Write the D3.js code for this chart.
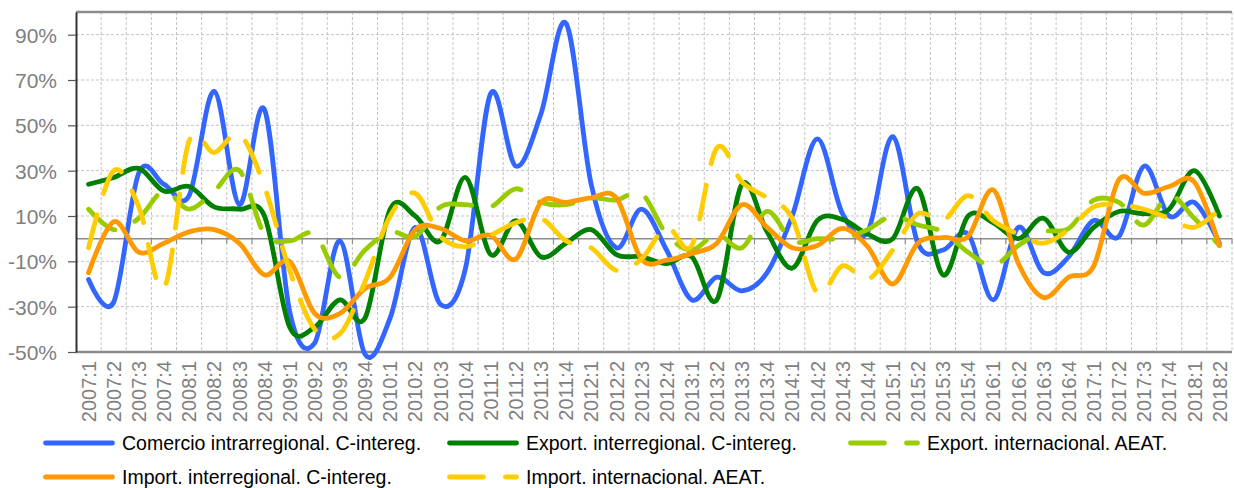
<!DOCTYPE html>
<html>
<head>
<meta charset="utf-8">
<script src="https://cdn.jsdelivr.net/npm/d3@7"></script>
<style>
  body { margin: 0; background: #fff; }
  svg { display: block; font-family: "Liberation Sans", Arial, sans-serif; }
</style>
</head>
<body>
<svg id="chart"></svg>
<script>
// trimestres
const labels = ["2007:1","2007:2","2007:3","2007:4","2008:1","2008:2","2008:3","2008:4",
  "2009:1","2009:2","2009:3","2009:4","2010:1","2010:2","2010:3","2010:4",
  "2011:1","2011:2","2011:3","2011:4","2012:1","2012:2","2012:3","2012:4",
  "2013:1","2013:2","2013:3","2013:4","2014:1","2014:2","2014:3","2014:4",
  "2015:1","2015:2","2015:3","2015:4","2016:1","2016:2","2016:3","2016:4",
  "2017:1","2017:2","2017:3","2017:4","2018:1","2018:2"];

// series (%)
const comercioIntra = [-18, -28, 29, 24, 19, 65, 15, 57, -32, -46, -1, -51, -35, 5, -29, -13,
  64, 32, 55, 95, 24, -4, 13, -5, -27, -17, -23, -15, 10, 44, 11, 3,
  45, -2, -5, 2, -27, 5, -15, -8, 8, 1, 32, 10, 16, -2];
const exportInter = [24, 27, 31, 21, 23, 14, 13, 10, -39, -39, -27, -35, 13, 10, -1, 27,
  -7, 8, -8, -2, 4, -7, -8, -11, -8, -27, 24, 3, -13, 8, 8.5, 2,
  0, 22, -16, 10, 7, 0, 9, -6, 5, 12, 11, 13, 30, 10];
const exportIntl = [13, 4, 9, 21, 13, 21, 30, 2, -1, 2, -17, -5, 3, 1, 14, 15,
  14, 22, 16, 15, 18, 17, 20, 2, -5, 2, -4, 12, -1, 0, 0, 4,
  10, 6, 3, -6, -12, -3, 3, 4.5, 17, 16, 6, 19, 9, -3];
const importInter = [-15, 7.5, -6, -2, 3, 4, -2, -16, -10, -33, -33, -22, -17, 4, 4.5, -1,
  1.5, -9, 16, 16, 18, 18, -9, -9.5, -6.5, -2, 15, 5, -4, -3, 4.5, -3.5,
  -20, -2, 0.5, 1, 21.5, -11, -26, -17, -12, 26, 20, 23, 25, -3];
const importIntl = [-4, 30, 14, -22, 43, 38, 46, 23, -14, -40, -42, -19, 10, 20, 1, -3.5,
  1.5, 7, 9, -1, -4, -14, -9, 5, -3, 40, 25, 18, 9, -24, -12, -18,
  -5, 11, 8, 19, 8, 2, -2, 4, 14, 15, 13, 9, 5, 13];

const yTicks = [-50, -30, -10, 10, 30, 50, 70, 90];

const series = [
  { name: "Comercio intrarregional. C-intereg.", values: comercioIntra, color: "#3366FF", dash: null },
  { name: "Export. interregional. C-intereg.", values: exportInter, color: "#008000", dash: null },
  { name: "Export. internacional. AEAT.", values: exportIntl, color: "#99CC00", dash: "34,22" },
  { name: "Import. interregional. C-intereg.", values: importInter, color: "#FF9900", dash: null },
  { name: "Import. internacional. AEAT.", values: importIntl, color: "#FFCC00", dash: "34,22" }
];

const width = 1234, height = 488;
const M = { left: 76, right: 1232, top: 12, bottom: 352 };

const svg = d3.select("#chart").attr("width", width).attr("height", height);

const x = d3.scaleBand().domain(labels).range([M.left, M.right]);
const y = d3.scaleLinear().domain([-50, 100]).range([M.bottom, M.top]);
const cx = d => x(d) + x.bandwidth() / 2;

// rejilla
const grid = svg.append("g").attr("stroke", "#c3c3c3").attr("stroke-width", 1).attr("stroke-dasharray", "3,2");
grid.selectAll(".h").data(yTicks.filter(v => v > -50)).enter().append("line")
  .attr("x1", M.left).attr("x2", M.right)
  .attr("y1", d => y(d)).attr("y2", d => y(d));
grid.selectAll(".v").data(labels).enter().append("line")
  .attr("x1", d => x(d) + x.step()).attr("x2", d => x(d) + x.step())
  .attr("y1", M.top).attr("y2", M.bottom);

// bordes
svg.append("line").attr("x1", M.left).attr("x2", M.right).attr("y1", M.top).attr("y2", M.top)
  .attr("stroke", "#8c8c8c").attr("stroke-width", 2.5);
svg.append("line").attr("x1", M.left).attr("x2", M.right).attr("y1", M.bottom).attr("y2", M.bottom)
  .attr("stroke", "#8c8c8c").attr("stroke-width", 2.5);

// eje de categorias en el cero
const y0 = y(0);
svg.append("line").attr("x1", M.left).attr("x2", M.right).attr("y1", y0).attr("y2", y0)
  .attr("stroke", "#8c8c8c").attr("stroke-width", 1.5);
svg.append("g").selectAll("line").data(labels).enter().append("line")
  .attr("x1", d => x(d) + x.step()).attr("x2", d => x(d) + x.step())
  .attr("y1", y0).attr("y2", y0 + 5)
  .attr("stroke", "#8c8c8c").attr("stroke-width", 1.2);

// eje Y
const yAxis = d3.axisLeft(y).tickValues(yTicks).tickSize(8).tickSizeOuter(0).tickFormat(d => d + "%");
const gy = svg.append("g").attr("transform", `translate(${M.left},0)`).call(yAxis);
gy.select(".domain").attr("stroke", "#333").attr("stroke-width", 2);
gy.selectAll(".tick line").attr("stroke", "#555").attr("stroke-width", 1.2);
gy.selectAll(".tick text").attr("x", -19).attr("dy", "0.36em")
  .attr("fill", "#808080").style("font-size", "21px");

// eje X (etiquetas abajo)
const xAxis = d3.axisBottom(x).tickSize(0).tickFormat(d => d);
const gx = svg.append("g").attr("transform", `translate(0,${M.bottom})`).call(xAxis);
gx.select(".domain").remove();
gx.selectAll(".tick text")
  .attr("transform", "rotate(-90)")
  .attr("text-anchor", "end")
  .attr("x", -9).attr("y", 0).attr("dy", "0.36em")
  .attr("fill", "#808080").style("font-size", "20px");

// lineas
const line = d3.line()
  .x((d, i) => cx(labels[i]))
  .y(d => y(d))
  .curve(d3.curveCardinal.tension(0));

svg.append("g").selectAll("path").data(series).enter().append("path")
  .attr("d", d => line(d.values))
  .attr("fill", "none")
  .attr("stroke", d => d.color)
  .attr("stroke-width", 4.8)
  .attr("stroke-linecap", "round")
  .attr("stroke-linejoin", "round")
  .attr("stroke-dasharray", d => d.dash);

// leyenda
const legendPos = [[43, 443], [447, 443], [848, 443], [43, 477], [447, 477]];
const lg = svg.append("g");
series.forEach((s, i) => {
  const [lx, ly] = legendPos[i];
  lg.append("line")
    .attr("x1", lx + 2.5).attr("x2", lx + 69.5).attr("y1", ly).attr("y2", ly)
    .attr("stroke", s.color).attr("stroke-width", 4.8)
    .attr("stroke-linecap", "round").attr("stroke-dasharray", s.dash);
  lg.append("text")
    .attr("x", lx + 79).attr("y", ly).attr("dy", "0.36em")
    .style("font-size", "19.5px").attr("fill", "#000")
    .text(s.name);
});
</script>
</body>
</html>
